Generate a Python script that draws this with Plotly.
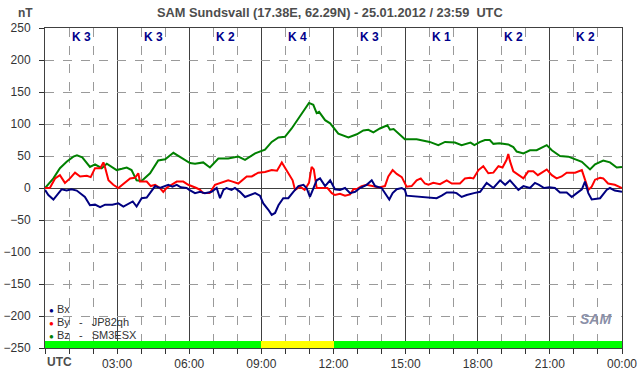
import plotly.graph_objects as go

# ---- data (hours UTC, nT) ----
BX = [(0,-3),(0.14,-11),(0.35,-18),(0.55,-8),(0.69,-2),(0.9,-4),(1.1,-2),(1.32,-4),(1.46,-8),(1.66,-14),
      (1.87,-27),(2.08,-26),(2.29,-30),(2.5,-26),(2.8,-26),(3.05,-24),(3.26,-29),(3.47,-24),(3.65,-21),(3.81,-29),
      (4.02,-16),(4.23,-15),(4.44,-3),(4.58,3),(4.78,0),(4.95,3),(5.13,5),(5.3,2),(5.48,5),(5.65,1),
      (5.89,0),(6.0,-3),(6.24,-8),(6.45,-6),(6.65,-8),(6.93,-6),(7.14,0),(7.28,-16),(7.42,-3),(7.55,0),
      (7.76,-3),(7.9,0),(8.11,-6),(8.32,-14),(8.53,-11),(8.74,-8),(8.94,-12),(9.08,-24),(9.29,-34),(9.43,-42),
      (9.57,-39),(9.71,-27),(9.91,-16),(10.12,-16),(10.33,-6),(10.54,3),(10.75,5),(10.88,0),(11.02,-14),(11.16,0),
      (11.3,12),(11.44,15),(11.65,3),(11.86,12),(12.0,3),(12.06,-2),(12.27,-3),(12.48,0),(12.69,-8),(12.9,-6),
      (13.1,0),(13.38,5),(13.59,12),(13.73,3),(14.0,0),(14.21,-11),(14.32,-18),(14.46,-8),(14.63,-2),(14.84,0),
      (14.97,-3),(15.04,-12),(15.35,-13),(15.67,-14),(16.0,-14),(16.29,-16),(16.5,-12),(16.71,-7),(17.0,-7),(17.12,-8),
      (17.33,-14),(17.54,-11),(17.84,-8),(18.1,-6),(18.37,8),(18.65,0),(18.93,12),(19.14,5),(19.34,12),(19.55,3),
      (19.69,-3),(19.9,3),(20.17,0),(20.38,8),(20.55,5),(20.76,0),(20.97,1),(21.21,0),(21.42,-7),(21.7,-7),
      (21.91,-14),(22.12,-8),(22.33,-2),(22.46,10),(22.6,-8),(22.74,-18),(22.9,-17),(23.09,-16),(23.36,-3),(23.5,0),
      (23.7,-4),(24.0,-6)]

BY = [(0,0),(0.2,0),(0.42,15),(0.62,20),(0.83,8),(1.04,15),(1.25,24),(1.46,18),(1.74,19),(1.9,17),
      (2.08,31),(2.3,31),(2.43,40),(2.5,32),(2.64,12),(2.84,5),(3.05,0),(3.26,7),(3.54,15),(3.74,16),
      (3.88,23),(3.95,10),(4.23,10),(4.4,3),(4.58,5),(4.78,0),(4.92,-6),(5.05,0),(5.27,5),(5.48,10),
      (5.75,10),(5.96,5),(6.3,0),(6.45,-3),(6.58,-8),(6.85,-8),(7.07,5),(7.35,8),(7.62,12),(7.8,10),
      (8.04,7),(8.39,18),(8.6,18),(8.87,24),(9.15,25),(9.43,28),(9.65,27),(9.85,40),(9.98,32),(10.19,20),
      (10.3,12),(10.4,-3),(10.61,2),(10.8,-3),(10.98,8),(11.09,33),(11.18,29),(11.3,0),(11.5,0),(11.75,0),
      (11.93,-8),(12.06,-11),(12.27,-9),(12.48,-12),(12.69,-10),(12.83,-2),(13.0,-1),(13.17,3),(13.38,5),(13.66,3),
      (13.9,1),(14.14,3),(14.28,18),(14.46,28),(14.63,22),(14.84,17),(15.04,2),(15.25,3),(15.46,12),(15.63,15),
      (15.8,7),(15.95,5),(16.15,8),(16.43,6),(16.71,12),(16.92,7),(17.26,7),(17.47,15),(17.68,16),(17.82,15),
      (17.96,23),(18.03,28),(18.23,34),(18.44,23),(18.65,24),(18.86,34),(19.03,32),(19.2,44),(19.27,53),(19.34,42),
      (19.48,26),(19.69,20),(19.9,15),(20.1,26),(20.31,26),(20.5,20),(20.87,29),(21.08,20),(21.28,15),(21.49,18),
      (21.7,24),(22.05,24),(22.33,28),(22.46,13),(22.6,-3),(22.74,2),(22.88,13),(23.09,16),(23.22,15),(23.42,7),
      (23.7,5),(24.0,0)]

BZ = [(0,0),(0.35,15),(0.62,31),(0.9,41),(1.18,49),(1.33,51),(1.55,48),(1.87,33),(2.08,37),(2.36,31),
      (2.57,38),(2.98,28),(3.2,30),(3.4,32),(3.6,28),(3.81,12),(4.02,11),(4.2,17),(4.37,23),(4.71,43),
      (5.0,45),(5.34,55),(5.75,46),(6.03,39),(6.24,38),(6.58,40),(6.86,32),(7.21,46),(7.62,46),(8.04,49),
      (8.32,44),(8.74,54),(9.15,60),(9.43,72),(9.71,79),(9.98,80),(10.26,93),(10.6,111),(10.98,133),(11.16,130),
      (11.3,117),(11.4,119),(11.65,106),(11.86,101),(12.2,85),(12.62,79),(12.97,84),(13.24,90),(13.45,91),(13.66,87),
      (13.93,93),(14.24,98),(14.35,91),(14.5,92),(14.7,85),(14.97,76),(15.46,76),(15.74,74),(16.0,72),(16.36,67),
      (16.64,72),(17.05,71),(17.33,67),(17.7,71),(17.86,67),(18.1,72),(18.3,75),(18.5,75),(18.65,69),(18.9,70),
      (19.27,68),(19.48,64),(19.62,57),(19.9,54),(20.17,59),(20.45,59),(20.87,67),(21.08,59),(21.42,50),(21.77,49),
      (22.05,45),(22.33,41),(22.67,29),(22.88,37),(23.22,43),(23.5,40),(23.78,32),(24.0,33)]

K_INDEX = [3, 3, 2, 4, 3, 1, 2, 2]            # one per 3-hour block
K_CENTERS = [1.5, 4.5, 7.5, 10.5, 13.5, 16.5, 19.5, 22.5]
X_TICKS = [0, 3, 6, 9, 12, 15, 18, 21, 24]
X_TICK_TEXT = ["", "03:00", "06:00", "09:00", "12:00", "15:00", "18:00", "21:00", "00:00"]
Y_TICKS = list(range(-250, 251, 50))

FONT = "Liberation Sans, Arial, sans-serif"

def split(pairs):
    return [p[0] for p in pairs], [p[1] for p in pairs]

fig = go.Figure()

# activity bar along the bottom (yellow for K>=4)
fig.add_trace(go.Bar(
    x=K_CENTERS, y=[11] * len(K_CENTERS), base=-250, width=3,
    marker=dict(color=["#ffff00" if k >= 4 else "#00ff00" for k in K_INDEX], line=dict(width=0)),
    showlegend=False, hoverinfo="skip"))

for name, pairs, color in [("Bz", BZ, "#008000"), ("By", BY, "#ff0000"), ("Bx", BX, "#000080")]:
    x, y = split(pairs)
    fig.add_trace(go.Scatter(x=x, y=y, mode="lines", name=name,
                             line=dict(color=color, width=2), showlegend=False))

# K labels
for c, k in zip(K_CENTERS, K_INDEX):
    fig.add_annotation(x=c, y=236, xref="x", yref="y", text=f"<b>K {k}</b>", showarrow=False,
                       font=dict(family=FONT, size=12, color="#00008b"))

# legend as annotations
legend_items = [("#000080", "Bx"), ("#ff0000", "By\u00a0\u00a0\u00a0-\u00a0\u00a0\u00a0JP82qh"),
                ("#008000", "Bz\u00a0\u00a0\u00a0-\u00a0\u00a0\u00a0SM3ESX")]
for i, (col, txt) in enumerate(legend_items):
    fig.add_annotation(x=0.004, y=0.122 - i * 0.04, xref="paper", yref="paper", xanchor="left", yanchor="middle",
                       text=f"<span style='color:{col};font-size:8px'>●</span> {txt}", showarrow=False,
                       font=dict(family=FONT, size=11, color="#333333"))

fig.add_annotation(x=0.5, y=1.0, xref="paper", yref="paper", yanchor="bottom", yshift=6, xshift=-4,
                   text="<b>SAM Sundsvall (17.38E, 62.29N) - 25.01.2012 / 23:59\u00a0\u00a0UTC</b>",
                   showarrow=False, font=dict(family=FONT, size=12.8, color="#4d4d4d"))
fig.add_annotation(x=-0.05, y=1.0, xref="paper", yref="paper", yanchor="bottom", yshift=6,
                   text="<b>nT</b>", showarrow=False, font=dict(family=FONT, size=12, color="#4d4d4d"))
fig.add_annotation(x=0.0, y=0, xref="paper", yref="paper", xanchor="left", yanchor="top", yshift=-5,
                   text="<b>UTC</b>", showarrow=False, font=dict(family=FONT, size=12, color="#4d4d4d"))
fig.add_annotation(x=0.985, y=0.06, xref="paper", yref="paper", xanchor="right", yanchor="bottom",
                   text="<i><b>SAM</b></i>", showarrow=False, font=dict(family=FONT, size=14, color="#8a8fa8"))

fig.update_layout(
    width=642, height=376,
    margin=dict(l=45, r=20, t=28, b=28, autoexpand=False),
    paper_bgcolor="white", plot_bgcolor="white",
    font=dict(family=FONT, size=11, color="#333333"),
    bargap=0,
    xaxis=dict(range=[0, 24], tickmode="array", tickvals=X_TICKS, ticktext=X_TICK_TEXT, automargin=False,
               showgrid=True, gridcolor="#404040", gridwidth=1,
               ticks="outside", ticklen=5, tickcolor="#333333",
               showline=True, linecolor="#404040", linewidth=1, mirror=True,
               zeroline=False, tickfont=dict(size=12, color="#333333"),
               minor=dict(tickmode="linear", tick0=0, dtick=1, showgrid=True, griddash="dash",
                          gridcolor="#9a9a9a", gridwidth=1, ticks="outside", ticklen=5, tickcolor="#333333")),
    yaxis=dict(range=[-250, 250], tickmode="array", tickvals=Y_TICKS, automargin=False,
               showgrid=True, gridcolor="#9a9a9a", griddash="dash", gridwidth=1,
               zeroline=True, zerolinecolor="#404040", zerolinewidth=1,
               ticks="outside", ticklen=5, tickcolor="#333333", ticklabelstandoff=6,
               showline=True, linecolor="#404040", linewidth=1, mirror=True,
               tickfont=dict(size=12, color="#333333")),
)

fig.write_html("out.html", config={"displayModeBar": False},
               post_script="document.body.style.margin='0';document.body.style.overflow='hidden';")
